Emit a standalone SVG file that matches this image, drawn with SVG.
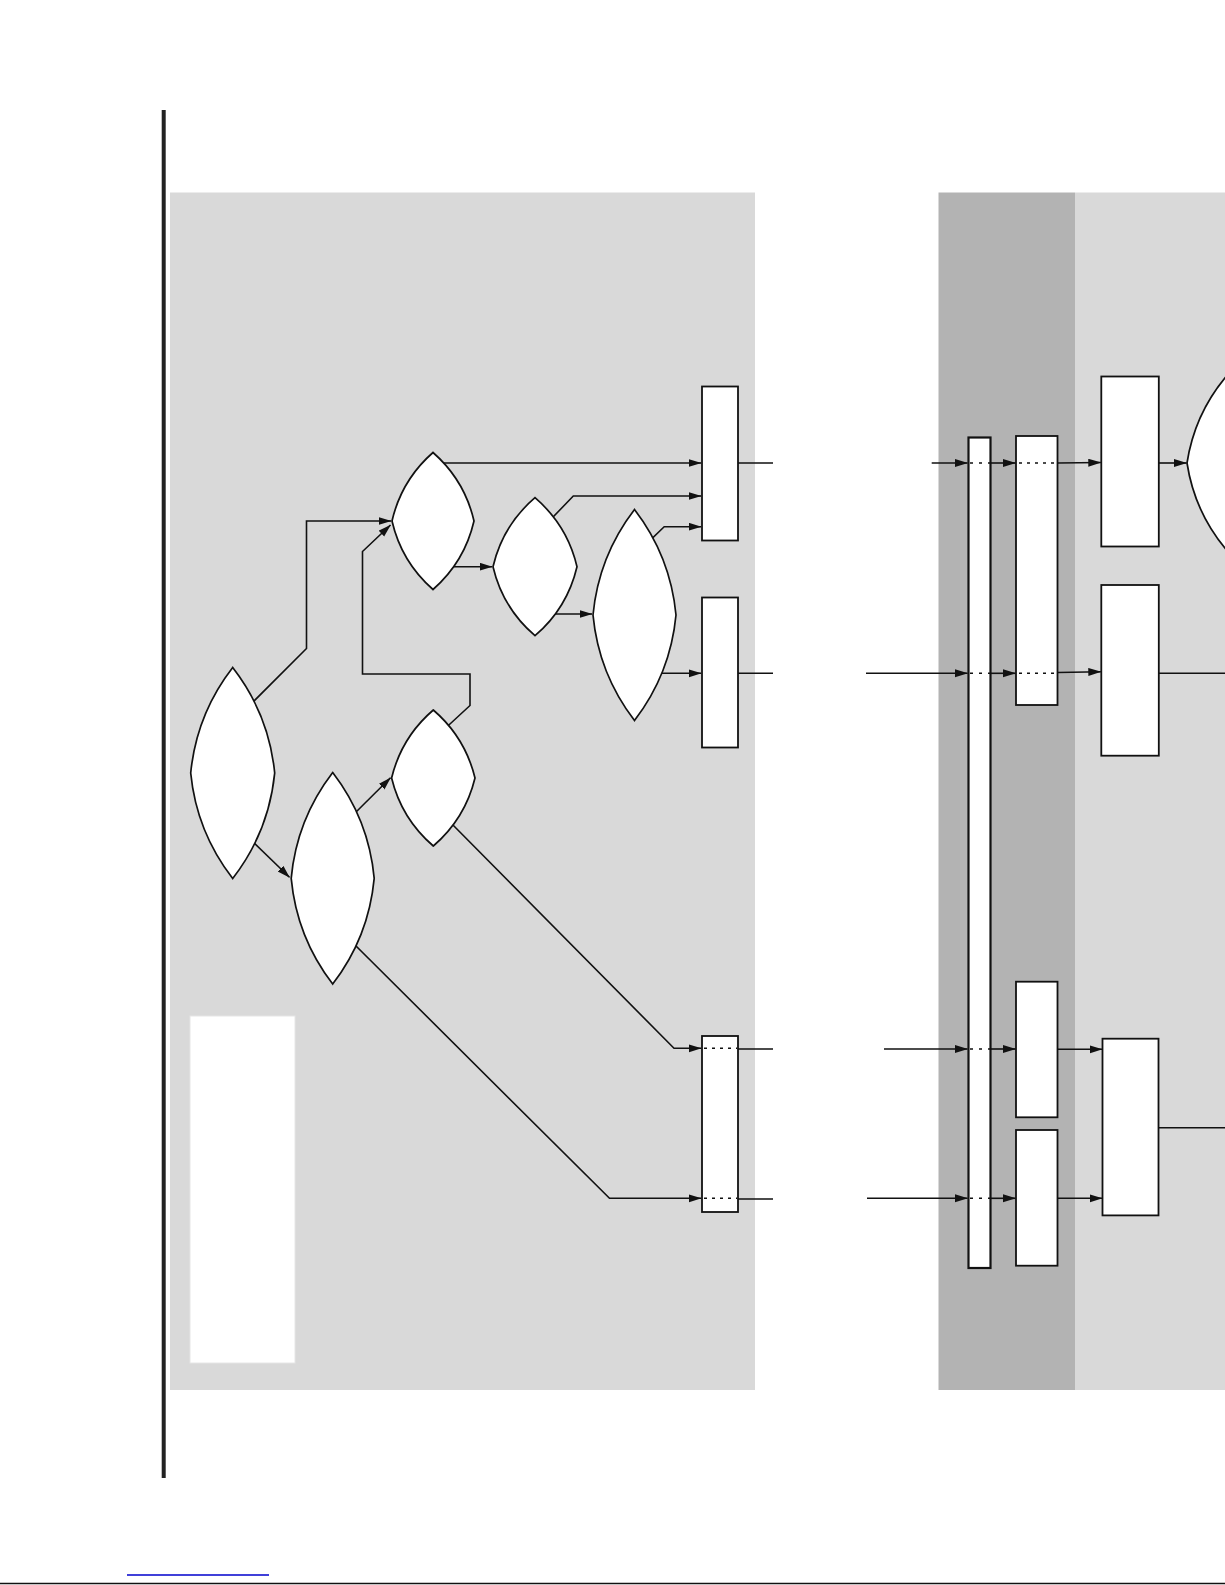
<svg xmlns="http://www.w3.org/2000/svg" width="1225" height="1585" viewBox="0 0 1225 1585">
<defs>
<style>
.panel-l{fill:#d9d9d9}
.panel-d{fill:#b3b3b3}
.box{fill:#ffffff;stroke:#111111;stroke-width:1.8}
.lens{fill:#ffffff;stroke:#111111;stroke-width:1.7}
.c{fill:none;stroke:#111111;stroke-width:1.6}
.a{fill:none;stroke:#111111;stroke-width:1.6;marker-end:url(#ah)}
.dot{fill:none;stroke:#111111;stroke-width:1.5;stroke-dasharray:3 5}
</style>
<marker id="ah" markerUnits="userSpaceOnUse" markerWidth="14" markerHeight="9" refX="12.5" refY="4" orient="auto">
<path d="M0,0 L13,4 L0,8 Z" fill="#111111"/>
</marker>
</defs>
<rect width="1225" height="1585" fill="#ffffff"/>
<g id="panels">
<rect class="panel-l" x="170" y="192.5" width="585" height="1197.5"/>
<rect class="panel-d" x="938.5" y="192.5" width="136.5" height="1197.5"/>
<rect class="panel-l" x="1075" y="192.5" width="150" height="1197.5"/>
<rect x="161.7" y="110" width="4" height="1368" fill="#222222"/>
<line x1="127" y1="1575" x2="269" y2="1575" stroke="#0000cc" stroke-width="1.4"/>
<line x1="0" y1="1583.5" x2="1225" y2="1583.5" stroke="#111111" stroke-width="1.4"/>
</g>
<g id="legend"><rect x="190" y="1016" width="105" height="347" fill="#ffffff" stroke="#e6e6e6" stroke-width="1"/></g>
<g id="R1"><rect class="box" x="702" y="386.5" width="36" height="154"/></g>
<g id="R2"><rect class="box" x="702" y="597.5" width="36" height="150"/></g>
<g id="R7"><rect class="box" x="702" y="1036" width="36" height="176"/></g>
<g id="L"><rect class="box" x="968.5" y="437.5" width="22" height="830.5" style="stroke-width:2.2"/></g>
<g id="R3"><rect class="box" x="1016" y="436" width="41.5" height="269"/></g>
<g id="R8"><rect class="box" x="1016" y="981.7" width="41.5" height="135.6"/></g>
<g id="R9"><rect class="box" x="1016" y="1130" width="41.5" height="135.7"/></g>
<g id="R5"><rect class="box" x="1101.3" y="376.5" width="57.5" height="170"/></g>
<g id="R6"><rect class="box" x="1101.3" y="585" width="57.5" height="170.7"/></g>
<g id="R10"><rect class="box" x="1102.5" y="1038.7" width="56" height="176.7"/></g>
<g id="connectors">
<path class="a" d="M250,705 L306.5,648.5 L306.5,521 L391,521"/>
<path class="a" d="M444,729.5 L470,705.5 L470,674 L362.5,674 L362.5,551.5 L390.5,525"/>
<path class="a" d="M250,839 L289.5,877.3"/>
<path class="a" d="M352,816 L390.5,777.8"/>
<path class="a" d="M448,566.7 L492,566.7"/>
<path class="a" d="M440,463 L701,463"/>
<path class="a" d="M548,522.3 L573.3,496 L701,496"/>
<path class="a" d="M545,614 L592,614"/>
<path class="a" d="M648,542.3 L664.2,526.7 L701,526.7"/>
<path class="a" d="M650,673.3 L701,673.3"/>
<path class="a" d="M448,820 L674,1048.3 L701,1048.3"/>
<path class="a" d="M351,941 L609.5,1198.3 L701,1198.3"/>
<path class="dot" d="M704,1048.3 L737,1048.3 M704,1198.3 L737,1198.3"/>
<path class="c" d="M738,463 L773,463 M738,673.3 L773,673.3 M738,1049 L773,1049 M738,1199 L773,1199"/>
<path class="a" d="M931.7,463 L967.5,463"/>
<path class="a" d="M866,673.3 L967.5,673.3"/>
<path class="a" d="M884,1049 L967.5,1049"/>
<path class="a" d="M867,1198.3 L967.5,1198.3"/>
<path class="dot" d="M970,463 L990,463 M970,673.3 L990,673.3 M970,1049 L990,1049 M970,1198.3 L990,1198.3" style="stroke-dasharray:3 6"/>
<path class="a" d="M990.5,463 L1015.5,463"/>
<path class="a" d="M990.5,673.3 L1015.5,673.3"/>
<path class="a" d="M990.5,1049 L1015.5,1049"/>
<path class="a" d="M990.5,1198.3 L1015.5,1198.3"/>
<path class="dot" d="M1019,463 L1056,463 M1019,673.3 L1056,673.3"/>
<path class="a" d="M1057.5,463 L1100.8,462.5"/>
<path class="a" d="M1057.5,672.5 L1100.8,671.7"/>
<path class="a" d="M1158.8,463 L1186.5,463"/>
<path class="c" d="M1158.8,673.3 L1225,673.3"/>
<path class="a" d="M1057.5,1049.3 L1102,1049.3"/>
<path class="a" d="M1057.5,1198.3 L1102,1198.3"/>
<path class="c" d="M1158.5,1127.7 L1225,1127.7"/>
</g>
<g id="lensA"><path class="lens" d="M433,452.5 A130,130 0 0 0 392,521 A130,130 0 0 0 433,589.5 A130,130 0 0 0 474,521 A130,130 0 0 0 433,452.5 Z"/></g>
<g id="lensB"><path class="lens" d="M535,497.7 A130,130 0 0 0 493,566.7 A130,130 0 0 0 535,635.7 A130,130 0 0 0 577,566.7 A130,130 0 0 0 535,497.7 Z"/></g>
<g id="lensC"><path class="lens" d="M232.7,667.5 A205,205 0 0 0 190.7,773 A205,205 0 0 0 232.7,878.5 A205,205 0 0 0 274.7,773 A205,205 0 0 0 232.7,667.5 Z"/></g>
<g id="lensD"><path class="lens" d="M332.7,772.6 A205,205 0 0 0 291.2,878.3 A205,205 0 0 0 332.7,984 A205,205 0 0 0 374.2,878.3 A205,205 0 0 0 332.7,772.6 Z"/></g>
<g id="lensE"><path class="lens" d="M433.3,710 A130,130 0 0 0 391.6,778 A130,130 0 0 0 433.3,846 A130,130 0 0 0 475,778 A130,130 0 0 0 433.3,710 Z"/></g>
<g id="lensF"><path class="lens" d="M634.5,509.5 A205,205 0 0 0 593,615 A205,205 0 0 0 634.5,720.5 A205,205 0 0 0 676,615 A205,205 0 0 0 634.5,509.5 Z"/></g>
<g id="lensG"><path class="lens" d="M1230,372 A177,177 0 0 0 1187,463 A177,177 0 0 0 1230,554 A177,177 0 0 0 1273,463 A177,177 0 0 0 1230,372 Z"/></g>
</svg>
